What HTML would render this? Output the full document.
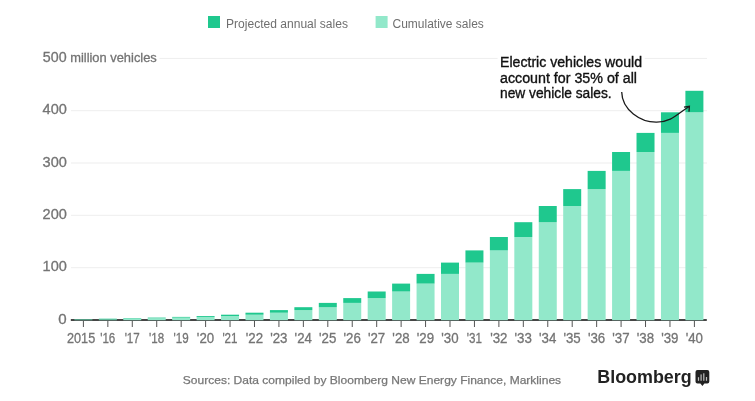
<!DOCTYPE html>
<html><head><meta charset="utf-8"><title>Chart</title>
<style>
html,body{margin:0;padding:0;background:#fff;}
body{width:755px;height:401px;overflow:hidden;font-family:"Liberation Sans",sans-serif;}
svg{display:block;font-family:"Liberation Sans",sans-serif;}
</style></head><body>
<svg style="will-change:transform" width="755" height="401" viewBox="0 0 755 401">
<rect x="0" y="0" width="755" height="401" fill="#fff"/>
<rect x="208" y="16" width="12" height="12" fill="#1fc88e"/>
<text x="226" y="27.5" font-size="12" fill="#6f6f6f" textLength="122" lengthAdjust="spacingAndGlyphs">Projected annual sales</text>
<rect x="375.6" y="16" width="12" height="12" fill="#92e8ca"/>
<text x="392.5" y="27.5" font-size="12" fill="#6f6f6f" textLength="91.3" lengthAdjust="spacingAndGlyphs">Cumulative sales</text>
<rect x="159.5" y="57.9" width="547.5" height="1" fill="#eeeeee"/>
<rect x="71" y="110.2" width="636" height="1" fill="#eeeeee"/>
<rect x="71" y="162.5" width="636" height="1" fill="#eeeeee"/>
<rect x="71" y="214.8" width="636" height="1" fill="#eeeeee"/>
<rect x="71" y="267.2" width="636" height="1" fill="#eeeeee"/>
<text x="42.8" y="61.6" font-size="14.4" fill="#747474" stroke="#747474" stroke-width="0.3" textLength="23.8" lengthAdjust="spacingAndGlyphs">500</text>
<text x="70.2" y="61.6" font-size="13.4" fill="#747474" stroke="#747474" stroke-width="0.3" textLength="86.6" lengthAdjust="spacingAndGlyphs">million vehicles</text>
<text x="42.6" y="114.4" font-size="14.4" fill="#747474" stroke="#747474" stroke-width="0.3" textLength="24.3" lengthAdjust="spacingAndGlyphs">400</text>
<text x="42.6" y="166.7" font-size="14.4" fill="#747474" stroke="#747474" stroke-width="0.3" textLength="24.3" lengthAdjust="spacingAndGlyphs">300</text>
<text x="42.6" y="219.0" font-size="14.4" fill="#747474" stroke="#747474" stroke-width="0.3" textLength="24.3" lengthAdjust="spacingAndGlyphs">200</text>
<text x="42.6" y="271.4" font-size="14.4" fill="#747474" stroke="#747474" stroke-width="0.3" textLength="24.3" lengthAdjust="spacingAndGlyphs">100</text>
<text x="58.2" y="324.3" font-size="14.4" fill="#747474" stroke="#747474" stroke-width="0.3" textLength="8.4" lengthAdjust="spacingAndGlyphs">0</text>
<rect x="70.8" y="319" width="636" height="2" fill="#464646"/>
<rect x="74.40" y="319.55" width="18.0" height="0.65" fill="#92e8ca"/><rect x="74.40" y="319.30" width="18.0" height="0.25" fill="#1fc88e"/>
<rect x="98.84" y="319.30" width="18.0" height="0.90" fill="#92e8ca"/><rect x="98.84" y="318.70" width="18.0" height="0.60" fill="#1fc88e"/>
<rect x="123.28" y="318.70" width="18.0" height="1.50" fill="#92e8ca"/><rect x="123.28" y="318.20" width="18.0" height="0.50" fill="#1fc88e"/>
<rect x="147.72" y="318.20" width="18.0" height="2.00" fill="#92e8ca"/><rect x="147.72" y="317.60" width="18.0" height="0.60" fill="#1fc88e"/>
<rect x="172.16" y="317.60" width="18.0" height="2.60" fill="#92e8ca"/><rect x="172.16" y="316.90" width="18.0" height="0.70" fill="#1fc88e"/>
<rect x="196.60" y="316.90" width="18.0" height="3.30" fill="#92e8ca"/><rect x="196.60" y="316.00" width="18.0" height="0.90" fill="#1fc88e"/>
<rect x="221.04" y="316.00" width="18.0" height="4.20" fill="#92e8ca"/><rect x="221.04" y="314.70" width="18.0" height="1.30" fill="#1fc88e"/>
<rect x="245.48" y="314.70" width="18.0" height="5.50" fill="#92e8ca"/><rect x="245.48" y="312.70" width="18.0" height="2.00" fill="#1fc88e"/>
<rect x="269.92" y="312.70" width="18.0" height="7.50" fill="#92e8ca"/><rect x="269.92" y="310.10" width="18.0" height="2.60" fill="#1fc88e"/>
<rect x="294.36" y="310.10" width="18.0" height="10.10" fill="#92e8ca"/><rect x="294.36" y="307.20" width="18.0" height="2.90" fill="#1fc88e"/>
<rect x="318.80" y="307.20" width="18.0" height="13.00" fill="#92e8ca"/><rect x="318.80" y="302.90" width="18.0" height="4.30" fill="#1fc88e"/>
<rect x="343.24" y="302.90" width="18.0" height="17.30" fill="#92e8ca"/><rect x="343.24" y="298.10" width="18.0" height="4.80" fill="#1fc88e"/>
<rect x="367.68" y="298.10" width="18.0" height="22.10" fill="#92e8ca"/><rect x="367.68" y="291.50" width="18.0" height="6.60" fill="#1fc88e"/>
<rect x="392.12" y="291.50" width="18.0" height="28.70" fill="#92e8ca"/><rect x="392.12" y="283.60" width="18.0" height="7.90" fill="#1fc88e"/>
<rect x="416.56" y="283.60" width="18.0" height="36.60" fill="#92e8ca"/><rect x="416.56" y="273.90" width="18.0" height="9.70" fill="#1fc88e"/>
<rect x="441.00" y="273.90" width="18.0" height="46.30" fill="#92e8ca"/><rect x="441.00" y="262.60" width="18.0" height="11.30" fill="#1fc88e"/>
<rect x="465.44" y="262.60" width="18.0" height="57.60" fill="#92e8ca"/><rect x="465.44" y="250.40" width="18.0" height="12.20" fill="#1fc88e"/>
<rect x="489.88" y="250.40" width="18.0" height="69.80" fill="#92e8ca"/><rect x="489.88" y="237.00" width="18.0" height="13.40" fill="#1fc88e"/>
<rect x="514.32" y="237.00" width="18.0" height="83.20" fill="#92e8ca"/><rect x="514.32" y="222.20" width="18.0" height="14.80" fill="#1fc88e"/>
<rect x="538.76" y="222.20" width="18.0" height="98.00" fill="#92e8ca"/><rect x="538.76" y="206.00" width="18.0" height="16.20" fill="#1fc88e"/>
<rect x="563.20" y="206.00" width="18.0" height="114.20" fill="#92e8ca"/><rect x="563.20" y="189.10" width="18.0" height="16.90" fill="#1fc88e"/>
<rect x="587.64" y="189.10" width="18.0" height="131.10" fill="#92e8ca"/><rect x="587.64" y="170.90" width="18.0" height="18.20" fill="#1fc88e"/>
<rect x="612.08" y="170.90" width="18.0" height="149.30" fill="#92e8ca"/><rect x="612.08" y="152.00" width="18.0" height="18.90" fill="#1fc88e"/>
<rect x="636.52" y="152.00" width="18.0" height="168.20" fill="#92e8ca"/><rect x="636.52" y="132.90" width="18.0" height="19.10" fill="#1fc88e"/>
<rect x="660.96" y="132.90" width="18.0" height="187.30" fill="#92e8ca"/><rect x="660.96" y="112.30" width="18.0" height="20.60" fill="#1fc88e"/>
<rect x="685.40" y="112.30" width="18.0" height="207.90" fill="#92e8ca"/><rect x="685.40" y="90.80" width="18.0" height="21.50" fill="#1fc88e"/>
<rect x="82.90" y="321" width="1" height="6" fill="#555"/><text x="67.0" y="342.8" font-size="14.4" fill="#747474" stroke="#747474" stroke-width="0.3" textLength="28.2" lengthAdjust="spacingAndGlyphs">2015</text>
<rect x="107.34" y="321" width="1" height="6" fill="#555"/><text x="100.19" y="342.8" font-size="14.4" fill="#747474" stroke="#747474" stroke-width="0.3" textLength="15.1" lengthAdjust="spacingAndGlyphs">'16</text>
<rect x="131.78" y="321" width="1" height="6" fill="#555"/><text x="124.63" y="342.8" font-size="14.4" fill="#747474" stroke="#747474" stroke-width="0.3" textLength="15.1" lengthAdjust="spacingAndGlyphs">'17</text>
<rect x="156.22" y="321" width="1" height="6" fill="#555"/><text x="149.07" y="342.8" font-size="14.4" fill="#747474" stroke="#747474" stroke-width="0.3" textLength="15.1" lengthAdjust="spacingAndGlyphs">'18</text>
<rect x="180.66" y="321" width="1" height="6" fill="#555"/><text x="173.51" y="342.8" font-size="14.4" fill="#747474" stroke="#747474" stroke-width="0.3" textLength="15.1" lengthAdjust="spacingAndGlyphs">'19</text>
<rect x="205.10" y="321" width="1" height="6" fill="#555"/><text x="196.85" y="342.8" font-size="14.4" fill="#747474" stroke="#747474" stroke-width="0.3" textLength="17.3" lengthAdjust="spacingAndGlyphs">'20</text>
<rect x="229.54" y="321" width="1" height="6" fill="#555"/><text x="222.39" y="342.8" font-size="14.4" fill="#747474" stroke="#747474" stroke-width="0.3" textLength="15.1" lengthAdjust="spacingAndGlyphs">'21</text>
<rect x="253.98" y="321" width="1" height="6" fill="#555"/><text x="245.73" y="342.8" font-size="14.4" fill="#747474" stroke="#747474" stroke-width="0.3" textLength="17.3" lengthAdjust="spacingAndGlyphs">'22</text>
<rect x="278.42" y="321" width="1" height="6" fill="#555"/><text x="270.17" y="342.8" font-size="14.4" fill="#747474" stroke="#747474" stroke-width="0.3" textLength="17.3" lengthAdjust="spacingAndGlyphs">'23</text>
<rect x="302.86" y="321" width="1" height="6" fill="#555"/><text x="294.61" y="342.8" font-size="14.4" fill="#747474" stroke="#747474" stroke-width="0.3" textLength="17.3" lengthAdjust="spacingAndGlyphs">'24</text>
<rect x="327.30" y="321" width="1" height="6" fill="#555"/><text x="319.05" y="342.8" font-size="14.4" fill="#747474" stroke="#747474" stroke-width="0.3" textLength="17.3" lengthAdjust="spacingAndGlyphs">'25</text>
<rect x="351.74" y="321" width="1" height="6" fill="#555"/><text x="343.49" y="342.8" font-size="14.4" fill="#747474" stroke="#747474" stroke-width="0.3" textLength="17.3" lengthAdjust="spacingAndGlyphs">'26</text>
<rect x="376.18" y="321" width="1" height="6" fill="#555"/><text x="367.93" y="342.8" font-size="14.4" fill="#747474" stroke="#747474" stroke-width="0.3" textLength="17.3" lengthAdjust="spacingAndGlyphs">'27</text>
<rect x="400.62" y="321" width="1" height="6" fill="#555"/><text x="392.37" y="342.8" font-size="14.4" fill="#747474" stroke="#747474" stroke-width="0.3" textLength="17.3" lengthAdjust="spacingAndGlyphs">'28</text>
<rect x="425.06" y="321" width="1" height="6" fill="#555"/><text x="416.81" y="342.8" font-size="14.4" fill="#747474" stroke="#747474" stroke-width="0.3" textLength="17.3" lengthAdjust="spacingAndGlyphs">'29</text>
<rect x="449.50" y="321" width="1" height="6" fill="#555"/><text x="441.25" y="342.8" font-size="14.4" fill="#747474" stroke="#747474" stroke-width="0.3" textLength="17.3" lengthAdjust="spacingAndGlyphs">'30</text>
<rect x="473.94" y="321" width="1" height="6" fill="#555"/><text x="466.79" y="342.8" font-size="14.4" fill="#747474" stroke="#747474" stroke-width="0.3" textLength="15.1" lengthAdjust="spacingAndGlyphs">'31</text>
<rect x="498.38" y="321" width="1" height="6" fill="#555"/><text x="490.13" y="342.8" font-size="14.4" fill="#747474" stroke="#747474" stroke-width="0.3" textLength="17.3" lengthAdjust="spacingAndGlyphs">'32</text>
<rect x="522.82" y="321" width="1" height="6" fill="#555"/><text x="514.57" y="342.8" font-size="14.4" fill="#747474" stroke="#747474" stroke-width="0.3" textLength="17.3" lengthAdjust="spacingAndGlyphs">'33</text>
<rect x="547.26" y="321" width="1" height="6" fill="#555"/><text x="539.01" y="342.8" font-size="14.4" fill="#747474" stroke="#747474" stroke-width="0.3" textLength="17.3" lengthAdjust="spacingAndGlyphs">'34</text>
<rect x="571.70" y="321" width="1" height="6" fill="#555"/><text x="563.45" y="342.8" font-size="14.4" fill="#747474" stroke="#747474" stroke-width="0.3" textLength="17.3" lengthAdjust="spacingAndGlyphs">'35</text>
<rect x="596.14" y="321" width="1" height="6" fill="#555"/><text x="587.89" y="342.8" font-size="14.4" fill="#747474" stroke="#747474" stroke-width="0.3" textLength="17.3" lengthAdjust="spacingAndGlyphs">'36</text>
<rect x="620.58" y="321" width="1" height="6" fill="#555"/><text x="612.33" y="342.8" font-size="14.4" fill="#747474" stroke="#747474" stroke-width="0.3" textLength="17.3" lengthAdjust="spacingAndGlyphs">'37</text>
<rect x="645.02" y="321" width="1" height="6" fill="#555"/><text x="636.77" y="342.8" font-size="14.4" fill="#747474" stroke="#747474" stroke-width="0.3" textLength="17.3" lengthAdjust="spacingAndGlyphs">'38</text>
<rect x="669.46" y="321" width="1" height="6" fill="#555"/><text x="661.21" y="342.8" font-size="14.4" fill="#747474" stroke="#747474" stroke-width="0.3" textLength="17.3" lengthAdjust="spacingAndGlyphs">'39</text>
<rect x="693.90" y="321" width="1" height="6" fill="#555"/><text x="685.65" y="342.8" font-size="14.4" fill="#747474" stroke="#747474" stroke-width="0.3" textLength="17.3" lengthAdjust="spacingAndGlyphs">'40</text>
<text x="500" y="66.5" font-size="14" fill="#fff" stroke="#fff" stroke-width="7" stroke-linejoin="round" textLength="142.0" lengthAdjust="spacingAndGlyphs">Electric vehicles would</text>
<text x="500" y="82.5" font-size="14" fill="#fff" stroke="#fff" stroke-width="7" stroke-linejoin="round" textLength="137.0" lengthAdjust="spacingAndGlyphs">account for 35% of all</text>
<text x="500" y="98.3" font-size="14" fill="#fff" stroke="#fff" stroke-width="7" stroke-linejoin="round" textLength="111.6" lengthAdjust="spacingAndGlyphs">new vehicle sales.</text>
<text x="500" y="66.5" font-size="14" fill="#111" stroke="#111" stroke-width="0.35" textLength="142.0" lengthAdjust="spacingAndGlyphs">Electric vehicles would</text>
<text x="500" y="82.5" font-size="14" fill="#111" stroke="#111" stroke-width="0.35" textLength="137.0" lengthAdjust="spacingAndGlyphs">account for 35% of all</text>
<text x="500" y="98.3" font-size="14" fill="#111" stroke="#111" stroke-width="0.35" textLength="111.6" lengthAdjust="spacingAndGlyphs">new vehicle sales.</text>
<path d="M621.7 92.1 C 622.04 110.03, 640.69 122.46, 656.69 122.17 C 672.69 121.88, 678.05 112.87, 689.3 106.5" fill="none" stroke="#1a1a1a" stroke-width="1.3"/>
<path d="M684 107.2 L689.4 106.3 L689 111.8" fill="none" stroke="#1a1a1a" stroke-width="1.3"/>
<text x="182.8" y="384.4" font-size="11.4" fill="#777" stroke="#777" stroke-width="0.25" textLength="378.3" lengthAdjust="spacingAndGlyphs">Sources: Data compiled by Bloomberg New Energy Finance, Marklines</text>
<text x="597.3" y="383.3" font-size="18.3" font-weight="bold" fill="#222" textLength="94.4" lengthAdjust="spacingAndGlyphs">Bloomberg</text>
<path d="M697.5 370 h9.8 a2 2 0 0 1 2 2 v9.5 a2 2 0 0 1 -2 2 h-2.9 l-2 2.5 l-2 -2.5 h-2.9 a2 2 0 0 1 -2 -2 v-9.5 a2 2 0 0 1 2 -2 z" fill="#222"/>
<rect x="697.9" y="377.2" width="1.2" height="3.6" fill="#bdbdbd"/><rect x="700.5" y="374.4" width="1.2" height="6.4" fill="#bdbdbd"/><rect x="703.2" y="373.3" width="1.2" height="7.5" fill="#bdbdbd"/><rect x="705.9" y="377.0" width="1.2" height="3.8" fill="#bdbdbd"/>
</svg>
</body></html>
